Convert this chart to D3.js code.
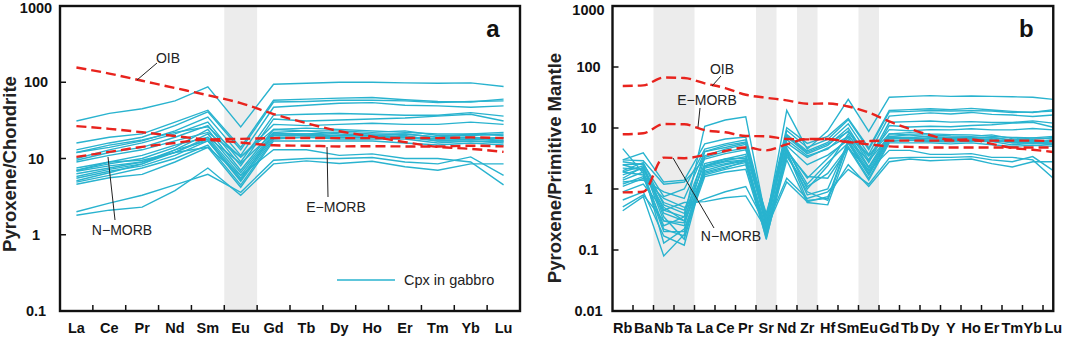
<!DOCTYPE html>
<html>
<head>
<meta charset="utf-8">
<script src="https://cdn.jsdelivr.net/npm/d3@7"></script>
<style>
  body { margin: 0; background: #fff; }
  svg { display: block; font-family: "Liberation Sans", Arial, sans-serif; }
</style>
</head>
<body>
<div id="chart"></div>
<script>
// REE elements (panel a) and spider elements (panel b)
const reeLabels = ["La", "Ce", "Pr", "Nd", "Sm", "Eu", "Gd", "Tb", "Dy", "Ho", "Er", "Tm", "Yb", "Lu"];
const spiderLabels = ["Rb", "Ba", "Nb", "Ta", "La", "Ce", "Pr", "Sr", "Nd", "Zr", "Hf", "Sm", "Eu", "Gd", "Tb", "Dy", "Y", "Ho", "Er", "Tm", "Yb", "Lu"];
const shadedA = ["Eu"];
const shadedB = [["Nb", "Ta"], ["Sr", "Sr"], ["Zr", "Zr"], ["Eu", "Eu"]];

// reference basalts, chondrite normalised
const oibChondrite = [156, 130, 104.5, 84, 67.6, 53.3, 38.3, 29.1, 22.8, 19.4, 16.4, 14.2, 13.4, 12.2];
const emorbChondrite = [26.6, 24.5, 22.1, 19.7, 17.6, 16.2, 14.9, 14.7, 14.4, 14.5, 14.4, 14.4, 14.7, 14.4];
const nmorbChondrite = [10.5, 12.2, 14.2, 16, 17.8, 18.1, 18.5, 18.6, 18.5, 18.5, 18.6, 18.5, 18.9, 18.5];

// reference basalts, primitive mantle normalised
const oibMantle = [48.8, 50, 67.3, 65.9, 53.9, 45.1, 35.1, 31.3, 28.4, 25, 25.2, 22.5, 17.9, 12.8, 9.7, 7.6, 6.4, 6.5, 5.5, 4.7, 4.4, 4.05];
const emorbMantle = [7.9, 8.2, 11.6, 11.5, 9.2, 8.5, 7.4, 7.3, 6.6, 6.5, 6.6, 5.9, 5.4, 5.0, 4.9, 4.8, 4.8, 4.8, 4.8, 4.8, 4.8, 4.8];
const nmorbMantle = [0.88, 0.9, 3.27, 3.2, 3.6, 4.2, 4.8, 4.3, 5.4, 6.6, 6.6, 5.9, 6.1, 6.2, 6.2, 6.2, 6.2, 6.2, 6.2, 6.2, 6.2, 6.1];

// clinopyroxene in gabbro, chondrite normalised (La..Lu)
const cpxChondrite = [
  [31, 39, 45, 57, 87, 26, 94, 97, 100, 100, 98, 97, 98, 88],
  [16, 19, 21, 30, 43, 14, 58, 60, 62, 63, 59, 56, 55, 60],
  [13, 16, 19, 27, 41, 13, 55, 56, 58, 58, 57, 54, 56, 57],
  [12, 14, 17, 23, 35, 11, 47, 50, 53, 54, 50, 49, 47, 49],
  [10, 13, 16, 21, 30, 9, 37, 38, 39, 38, 37, 37, 40, 36],
  [9.5, 12, 14, 19, 27, 8, 33, 31, 32, 33, 34, 36, 38, 31],
  [7, 8.5, 10, 14, 24, 7, 24, 25, 24, 23, 22, 21, 21, 22],
  [6.8, 8, 9, 13, 21, 6.5, 22, 23, 23, 22, 23, 20, 20, 21],
  [6.3, 7.5, 9, 12, 19, 6, 21, 21, 22, 21, 21, 19, 21, 20],
  [5.8, 7.2, 8.5, 12, 18, 5.5, 20, 20, 20, 20, 19, 18, 19, 18],
  [5.5, 6.8, 8, 11, 17, 5, 19, 19, 19, 19, 20, 17, 18, 17],
  [5.1, 6.5, 8.5, 13, 17, 5.2, 21, 21, 20, 20, 19, 18, 18, 19],
  [4.9, 6, 7.5, 10, 15, 4.5, 18, 19, 18, 18, 18, 16, 17, 16],
  [4.6, 5.6, 6.2, 9, 14, 4.2, 17, 17, 17, 17, 16, 15, 16, 15],
  [9, 11, 13, 17, 22, 10.5, 24, 23, 21, 20, 21, 19, 19, 17],
  [7.5, 9, 11, 15, 19, 8.6, 22, 20, 19, 19, 19, 17, 17, 16.5],
  [2.0, 2.6, 3.3, 4.5, 6.2, 3.6, 9.5, 10, 10, 10.3, 9, 8.5, 10.5, 6],
  [1.8, 2.1, 2.3, 3.8, 7.5, 3.3, 8.5, 9.3, 8.6, 9.2, 7.8, 7, 8.5, 8.5],
  [7, 9, 9.5, 12, 14, 6, 13, 13, 11, 11.5, 10, 10, 9, 4.5],
  [12, 15, 17.5, 22, 26, 10.4, 28, 27, 28, 29, 28, 28, 30, 28]
];

// clinopyroxene in gabbro, primitive mantle normalised (Rb..Lu)
const cpxMantle = [
  [1.9, 2.4, 0.45, 0.35, 10.7, 13.5, 15.3, 0.3, 19.4, 4.5, 9, 29.6, 8.8, 32, 33, 34, 33, 33.5, 33, 32.5, 32, 29.5],
  [3.0, 3.9, 1.3, 1.4, 5.5, 6.6, 7.1, 0.35, 10.1, 5.6, 7.3, 14.3, 4.7, 19.4, 20, 20.7, 20, 21, 19.7, 18.7, 18, 20],
  [2.5, 2.6, 0.75, 1.0, 4.5, 5.5, 6.4, 0.3, 9.1, 4.8, 6.5, 13.7, 4.4, 18.4, 18.7, 19.4, 19, 19.3, 19, 18, 18.3, 19],
  [4.6, 1.8, 0.5, 0.3, 4.1, 4.8, 5.7, 0.28, 7.8, 4.2, 5.8, 11.7, 3.7, 15.7, 16.7, 17.7, 17, 18, 16.7, 16.3, 15.4, 16.3],
  [2.2, 2.1, 0.6, 0.45, 3.5, 4.5, 5.4, 0.26, 7.1, 3.8, 5.2, 10, 3.0, 12.4, 12.7, 13, 12.5, 12.7, 12.3, 12.3, 13.1, 12],
  [1.5, 2.3, 0.3, 0.25, 3.3, 4.1, 4.7, 0.24, 6.4, 3.5, 4.5, 9, 2.7, 11, 10.4, 10.7, 10.5, 11, 11.3, 12, 12.4, 10.3],
  [1.2, 1.6, 0.2, 0.2, 2.4, 2.9, 3.4, 0.2, 4.7, 1.0, 2.4, 8, 2.3, 8, 8.4, 8, 7.8, 7.7, 7.3, 7, 6.9, 7.3],
  [2.8, 2.5, 0.35, 0.15, 2.3, 2.8, 3.0, 0.22, 4.4, 1.5, 3.2, 7, 2.2, 7.3, 7.7, 7.7, 7.4, 7.3, 7.7, 6.7, 6.5, 7],
  [0.66, 0.9, 0.17, 0.12, 2.2, 2.6, 3.0, 0.17, 4.1, 0.65, 0.7, 6.3, 2.0, 7, 7, 7.3, 7, 7, 7, 6.3, 6.9, 6.6],
  [1.9, 1.7, 0.25, 0.35, 2.0, 2.5, 2.9, 0.2, 4.1, 0.8, 1.0, 6, 1.8, 6.7, 6.7, 6.7, 6.5, 6.7, 6.3, 6, 6.2, 6],
  [0.51, 0.8, 0.3, 0.28, 1.9, 2.3, 2.7, 0.15, 3.7, 0.9, 0.65, 5.7, 1.7, 6.3, 6.3, 6.3, 6.1, 6.3, 6.7, 5.7, 5.9, 5.6],
  [2.5, 2.0, 0.13, 0.22, 1.8, 2.2, 2.9, 0.19, 4.4, 1.2, 2.7, 5.7, 1.7, 7, 7, 6.7, 6.5, 6.7, 6.3, 6, 5.9, 6.3],
  [1.7, 2.2, 0.4, 0.3, 1.7, 2.1, 2.5, 0.18, 3.4, 1.1, 1.8, 5, 1.5, 6, 6.3, 6, 5.9, 6, 6, 5.3, 5.6, 5.3],
  [0.44, 0.75, 0.08, 0.18, 1.6, 1.9, 2.1, 0.16, 3, 0.6, 0.55, 4.7, 1.4, 5.7, 5.7, 5.7, 5.5, 5.7, 5.3, 5, 5.2, 5],
  [3.0, 2.9, 1.2, 1.3, 3.1, 3.8, 4.4, 0.4, 5.7, 3.3, 4.7, 7.3, 3.5, 8, 7.7, 7, 6.8, 6.7, 7, 6.3, 6.2, 5.6],
  [2.0, 2.7, 0.55, 0.4, 2.6, 3.1, 3.7, 0.3, 5.1, 2.5, 3.6, 6.3, 2.9, 7.3, 6.7, 6.3, 6.2, 6.3, 6.3, 5.7, 5.6, 5.5],
  [1.1, 1.5, 0.7, 0.5, 0.69, 0.9, 1.1, 0.25, 1.5, 0.7, 0.9, 2.1, 1.2, 3.2, 3.3, 3.3, 3.3, 3.4, 3, 2.8, 3.4, 2],
  [0.9, 1.2, 0.45, 0.6, 0.62, 0.72, 0.77, 0.22, 1.3, 0.62, 0.75, 2.5, 1.1, 2.8, 3.1, 2.9, 3, 3.1, 2.6, 2.3, 2.8, 2.8],
  [1.4, 1.9, 0.22, 0.17, 2.4, 3.1, 3.2, 0.2, 4.1, 1.6, 1.5, 4.7, 2.0, 4.3, 4.3, 3.7, 3.7, 3.8, 3.3, 3.3, 3, 1.5],
  [1.3, 1.4, 0.9, 0.7, 4.1, 5.2, 5.9, 0.33, 7.4, 4, 5.5, 8.7, 3.5, 9.4, 9, 9.4, 9.3, 9.7, 9.3, 9.3, 9.8, 9.3]
];

const CPX = "#29b3cf";
const RED = "#e8231d";
const SHADE = "#ececec";

const svg = d3.select("#chart").append("svg")
    .attr("width", 1065)
    .attr("height", 337);

function drawPanel(opt) {
    const g = svg.append("g");
    const x = d3.scaleBand().domain(opt.labels).range(opt.xRange).padding(0);
    const y = d3.scaleLog().domain(opt.yDomain).range([311, 6]);
    const cx = d => x(d) + x.bandwidth() / 2;
    const left = opt.xRange[0];
    const right = opt.frameAtLast ? cx(opt.labels[opt.labels.length - 1]) : opt.xRange[1];

    // shaded element columns
    g.selectAll("rect.shade")
        .data(opt.shaded)
        .enter().append("rect")
        .attr("class", "shade")
        .attr("x", d => x(d[0]))
        .attr("y", y.range()[1])
        .attr("width", d => x(d[1]) + x.bandwidth() - x(d[0]))
        .attr("height", y.range()[0] - y.range()[1])
        .attr("fill", SHADE);

    const line = d3.line()
        .x((d, i) => cx(opt.labels[i]))
        .y(d => y(d));

    g.append("g")
        .selectAll("path")
        .data(opt.samples)
        .enter().append("path")
        .attr("d", line)
        .attr("fill", "none")
        .attr("stroke", CPX)
        .attr("stroke-width", 1.4);

    const smooth = d3.line()
        .x((d, i) => cx(opt.labels[i]))
        .y(d => y(d))
        .curve(d3.curveMonotoneX);

    g.append("g")
        .selectAll("path")
        .data(opt.refs)
        .enter().append("path")
        .attr("d", smooth)
        .attr("fill", "none")
        .attr("stroke", RED)
        .attr("stroke-width", 2.4)
        .attr("stroke-dasharray", "10,5");

    // frame
    g.append("rect")
        .attr("x", left)
        .attr("y", y.range()[1])
        .attr("width", right - left)
        .attr("height", y.range()[0] - y.range()[1])
        .attr("fill", "none")
        .attr("stroke", "#111")
        .attr("stroke-width", 2.4);

    // inward ticks on the bottom axis, between elements
    g.selectAll("line.xtick")
        .data(opt.labels.slice(1))
        .enter().append("line")
        .attr("x1", d => x(d)).attr("x2", d => x(d))
        .attr("y1", 311).attr("y2", 305)
        .attr("stroke", "#111").attr("stroke-width", 1.5);

    g.selectAll("text.xlab")
        .data(opt.labels)
        .enter().append("text")
        .attr("x", cx)
        .attr("y", 333)
        .attr("text-anchor", "middle")
        .style("font-size", "14.5px")
        .style("font-weight", "bold")
        .style("fill", "#111")
        .text(d => d);

    // y axis ticks and labels
    g.selectAll("line.ytick")
        .data(opt.yTicks)
        .enter().append("line")
        .attr("x1", left).attr("x2", left + 6)
        .attr("y1", d => y(d)).attr("y2", d => y(d))
        .attr("stroke", "#111").attr("stroke-width", 1.5);

    g.selectAll("text.ylab")
        .data(opt.yTicks)
        .enter().append("text")
        .attr("x", left - 24)
        .attr("y", d => Math.max(y(d) + 5, opt.topLabelY))
        .attr("text-anchor", "middle")
        .style("font-size", "14.5px")
        .style("font-weight", "bold")
        .style("fill", "#111")
        .text(d3.format("~g"));

    g.append("text")
        .attr("transform", `translate(${opt.titleX},${opt.titleY}) rotate(-90)`)
        .attr("text-anchor", "middle")
        .style("font-size", "18.5px")
        .style("font-weight", "bold")
        .style("fill", "#222")
        .text(opt.title);

    g.append("text")
        .attr("x", right - 27)
        .attr("y", 37)
        .attr("text-anchor", "middle")
        .style("font-size", "24px")
        .style("font-weight", "bold")
        .style("fill", "#111")
        .text(opt.letter);

    // reference curve annotations
    opt.notes.forEach(n => {
        g.append("line")
            .attr("x1", n.line[0]).attr("y1", n.line[1])
            .attr("x2", n.line[2]).attr("y2", n.line[3])
            .attr("stroke", "#222").attr("stroke-width", 1);
        g.append("text")
            .attr("x", n.tx).attr("y", n.ty)
            .attr("text-anchor", "middle")
            .style("font-size", "14px")
            .style("fill", "#222")
            .text(n.text);
    });

    return { g, x, y };
}

const panelA = drawPanel({
    labels: reeLabels,
    xRange: [60, 520],
    yDomain: [0.1, 1000],
    yTicks: [0.1, 1, 10, 100, 1000],
    topLabelY: 13,
    shaded: shadedA.map(d => [d, d]),
    samples: cpxChondrite,
    refs: [oibChondrite, emorbChondrite, nmorbChondrite],
    frameAtLast: false,
    title: "Pyroxene/Chondrite",
    titleX: 16, titleY: 164,
    letter: "a",
    notes: [
        { text: "OIB", tx: 168, ty: 63, line: [157, 63, 137, 80] },
        { text: "N\u2212MORB", tx: 122, ty: 235, line: [115, 220, 108, 157] },
        { text: "E\u2212MORB", tx: 336, ty: 212, line: [328, 197, 327, 147] }
    ]
});

// legend
panelA.g.append("line")
    .attr("x1", 337).attr("x2", 395)
    .attr("y1", 280).attr("y2", 280)
    .attr("stroke", CPX).attr("stroke-width", 1.4);
panelA.g.append("text")
    .attr("x", 404).attr("y", 285)
    .style("font-size", "14.5px")
    .style("fill", "#222")
    .text("Cpx in gabbro");

drawPanel({
    labels: spiderLabels,
    xRange: [612.5, 1063.5],
    yDomain: [0.01, 1000],
    yTicks: [0.01, 0.1, 1, 10, 100, 1000],
    topLabelY: 15,
    shaded: shadedB,
    samples: cpxMantle,
    refs: [oibMantle, emorbMantle, nmorbMantle],
    frameAtLast: true,
    title: "Pyroxene/Primitive Mantle",
    titleX: 561, titleY: 168,
    letter: "b",
    notes: [
        { text: "OIB", tx: 722, ty: 74, line: [721, 76, 712, 86] },
        { text: "E\u2212MORB", tx: 707, ty: 105, line: [700, 108, 698, 127] },
        { text: "N\u2212MORB", tx: 731, ty: 241, line: [714, 228, 673, 158] }
    ]
});
</script>
</body>
</html>
